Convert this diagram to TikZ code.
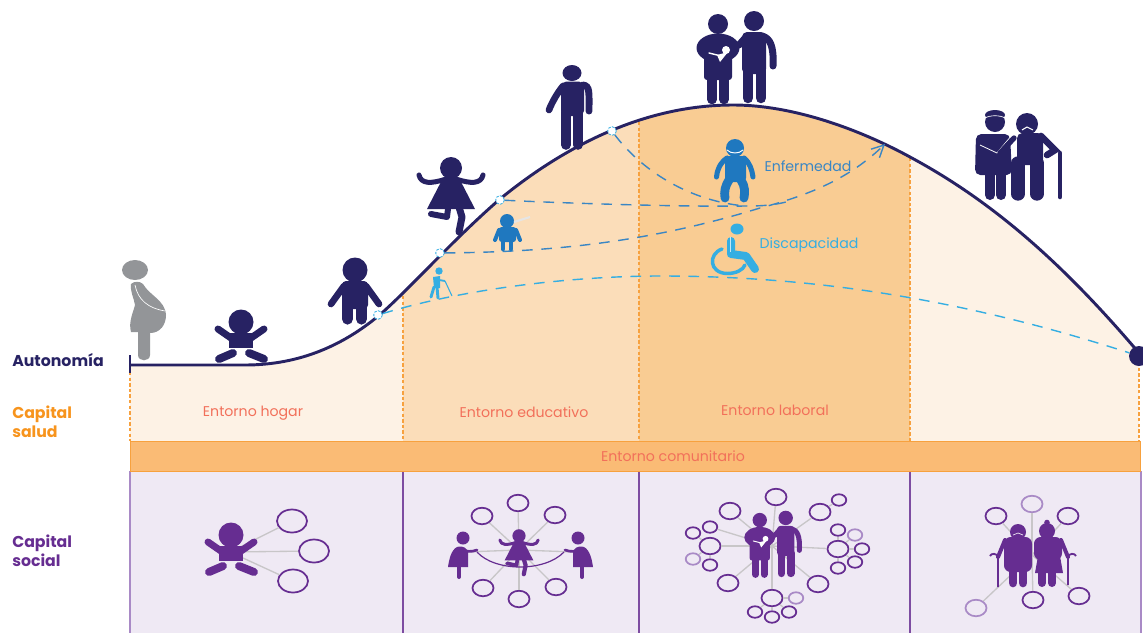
\documentclass[tikz,border=0pt]{standalone}
\usepackage{fontspec}
\setmainfont{Poppins}
\usetikzlibrary{shapes.geometric,arrows.meta}
\definecolor{navy}{HTML}{272263}
\definecolor{lightbg}{HTML}{FDF2E5}
\definecolor{midbg}{HTML}{FBDDB9}
\definecolor{darkbg}{HTML}{F9CC93}
\definecolor{bandbg}{HTML}{FABB75}
\definecolor{orangeline}{HTML}{F7A13E}
\definecolor{orangetxt}{HTML}{F7941D}
\definecolor{salmon}{HTML}{F2705A}
\definecolor{panelbg}{HTML}{EFE9F4}
\definecolor{purp}{HTML}{662D91}
\definecolor{purpl}{HTML}{A98AC6}
\definecolor{bluedk}{HTML}{1F78BF}
\definecolor{bluemd}{HTML}{3A86C4}
\definecolor{bluelt}{HTML}{35AEE2}
\definecolor{grayfig}{HTML}{939598}
\definecolor{spokec}{HTML}{C8C6C8}
\newcommand\figk{1}
\tikzset{
  limb/.style={line width=#1*\figk*0.75pt,line cap=round,line join=round,draw=fc},
  wlimb/.style={line width=#1*\figk*0.75pt,line cap=round,line join=round,draw=white},
  body/.style={fill=fc,rounded corners=#1*\figk*0.75pt},
  ring/.style={ellipse,draw=purp,line width=1.3pt,fill=panelbg,inner sep=0pt,minimum width=21*0.75pt,minimum height=16.5*0.75pt},
  ringbig/.style={ring,minimum width=30*0.75pt,minimum height=23*0.75pt},
  ringsm/.style={ring,minimum width=14.5*0.75pt,minimum height=11.5*0.75pt},
  faint/.style={draw=purpl},
  spoke/.style={draw=spokec,line width=1pt},
  guide/.style={draw=orangeline,line width=1.1pt,dash pattern=on 2.6pt off 1.6pt},
  cdash/.style={line width=1.05pt,dash pattern=on 8pt off 6.5pt},
  dot/.style={circle,fill=white,draw=bluelt,line width=0.6pt,dash pattern=on 2pt off 1pt,inner sep=0pt,minimum size=6.5pt},
  lab/.style={inner sep=0pt,font=\fontsize{10.6pt}{13pt}\selectfont},
  side/.style={inner sep=0pt,anchor=west,align=left,font=\fontsize{11.8pt}{14.5pt}\selectfont\bfseries},
}
\newcommand\curvepath{(130,365) -- (245,365) .. controls (300,365) and (345,345) .. (383,312) .. controls (415,283) and (455,238) .. (500,199) .. controls (560,150) and (640,105) .. (733,105) .. controls (800,105) and (870,135) .. (910,157) .. controls (990,200) and (1060,260) .. (1139,353)}
\newcommand\figbaby[4]{\begin{scope}[shift={(#1,#2)},scale=#3]\renewcommand\figk{#3}\colorlet{fc}{#4}
  \fill[fc] (0,-15) circle (12.5);
  \fill[fc] (-12,-4) rectangle (12,11);
  \draw[limb=7] (-10,1) -- (-23,-8); \draw[limb=7] (10,1) -- (23,-8);
  \draw[limb=8] (-8,16) -- (-22,22); \draw[limb=8] (8,16) -- (23,22);
\end{scope}}
\newcommand\figgirl[4]{\begin{scope}[shift={(#1,#2)},scale=#3]\renewcommand\figk{#3}\colorlet{fc}{#4}
  \fill[fc] (0,-22) circle (11);
  \fill[fc] (-8,-12) -- (8,-12) -- (24,19) -- (-24,19) -- cycle;
  \draw[limb=5] (-5,-11) .. controls (-20,-6) and (-30,-6) .. (-32,-15);
  \draw[limb=5] (5,-11) .. controls (20,-6) and (30,-6) .. (32,-15);
  \draw[limb=7] (8,17) -- (11,27) -- (8,42);
  \draw[limb=6] (-3,19) -- (-4,27) -- (-20,24);
\end{scope}}
\newcommand\figcouple[4]{\begin{scope}[shift={(#1,#2)},scale=#3]\renewcommand\figk{#3}\colorlet{fc}{#4}
  \fill[fc] (-17,-36) circle (10);
  \fill[fc] (19,-39) circle (10);
  \fill[fc] (-17,-12) ellipse (21.5 and 14.5);
  \fill[body=3] (-31,-12) rectangle (-3,20);
  \draw[limb=9.5] (-23,20) -- (-23,39.5);
  \draw[limb=9.5] (-11,20) -- (-11,39.5);
  \fill[body=5] (7,-28) rectangle (31,14);
  \draw[limb=7] (12,-24) -- (4,-15);
  \draw[limb=10.5] (13,10) -- (13,38);
  \draw[limb=10.5] (26,10) -- (26,38);
  \draw[limb=7] (27,-24) .. controls (35,-22) and (39,-14) .. (38,6);
  \fill[white] (-9,-10) circle (4);
  \draw[wlimb=1.4] (-26,-7) -- (-14,-4);
  \fill[white] (-18,-5) -- (-7,-8) -- (-11,-3) -- (-15,2) -- cycle;
\end{scope}}
\begin{document}
\begin{tikzpicture}[x=0.75pt,y=-0.75pt]
\useasboundingbox (0,0) rectangle (1143,633);
% --- bands
\begin{scope}\clip (130,0) rectangle (403,441);
  \fill[lightbg] (130,441) -- \curvepath -- (1139,441) -- cycle;\end{scope}
\begin{scope}\clip (403,0) rectangle (639,441);
  \fill[midbg] (130,441) -- \curvepath -- (1139,441) -- cycle;\end{scope}
\begin{scope}\clip (639,0) rectangle (910,441);
  \fill[darkbg] (130,441) -- \curvepath -- (1139,441) -- cycle;\end{scope}
\begin{scope}\clip (910,0) rectangle (1143,441);
  \fill[lightbg] (130,441) -- \curvepath -- (1139,441) -- cycle;\end{scope}
% --- guides
\coordinate (g0a) at (130,372); \coordinate (g0b) at (130,441);
\coordinate (g1a) at (403,296); \coordinate (g1b) at (403,441);
\coordinate (g2a) at (639,122); \coordinate (g2b) at (639,441);
\coordinate (g3a) at (910,158); \coordinate (g3b) at (910,441);
\coordinate (g4a) at (1139,362); \coordinate (g4b) at (1139,441);
\foreach \g in {g0,g1,g2,g3,g4} \draw[guide] (\g a) -- (\g b);
% --- panels
\fill[panelbg] (130,471) rectangle (1141,633);
\draw[purpl,line width=1pt] (130,471) -- (130,633);
\draw[purpl,line width=1pt] (1141,471) -- (1141,633);
\foreach \x in {402.5,638.5,909.5} \draw[purp!85!white,line width=1.5pt] (\x,471) -- (\x,633);
\node[draw=orangeline,fill=bandbg,line width=0.7pt,minimum width=1010*0.75pt,minimum height=29.5*0.75pt,inner sep=0pt,anchor=north west] (band) at (130,441) {};
\node[lab,text=salmon] (tcom) at (673,456) {Entorno comunitario};
% --- curve
\draw[navy,line width=2.2pt] \curvepath;
\coordinate (ticka) at (130,355); \coordinate (tickb) at (130,373);
\draw[navy,line width=2.2pt] (ticka) -- (tickb);
\node[circle,fill=navy,minimum size=20*0.75pt,inner sep=0pt] (endp) at (1139,356) {};
% --- dots
\node[dot] (d1) at (378,315) {};
\node[dot] (d2) at (440,253) {};
\node[dot] (d3) at (500,200) {};
\node[dot] (d4) at (612,131) {};
% --- trajectories
\draw[cdash,bluelt] (d1) .. controls (470,287) and (580,276) .. (660,276) .. controls (800,276) and (950,295) .. (endp);
\draw[cdash,bluemd] (d3) .. controls (560,203) and (680,207) .. (745,206) .. controls (765,206) and (775,205) .. (790,201);
\draw[cdash,bluemd] (d4) .. controls (635,162) and (680,200) .. (745,206);
\draw[cdash,bluemd,-{Straight Barb[length=9pt,width=9pt]}] (d2) .. controls (540,252) and (640,245) .. (760,208) .. controls (810,195) and (850,178) .. (885,144);
% --- figures on the curve
\fill[grayfig] (135,270) ellipse (13 and 10);
\fill[grayfig] (131,284) .. controls (134,281) and (140,281) .. (143,284) .. controls (150,296) and (165,300) .. (166,315) .. controls (166,325) and (160,333) .. (150,333) -- (150,355) .. controls (150,362) and (138,362) .. (138,355) -- (138,332) -- (131,332) .. controls (128,322) and (134,310) .. (135,305) .. controls (134,298) and (130,292) .. (131,284) -- cycle;
\draw[white,line width=0.5pt] (135,285) .. controls (138,300) and (148,308) .. (165,311);
\figbaby{241}{337}{1}{navy}
% boy
\fill[navy] (355,270) circle (12.5);
\fill[navy,rounded corners=3pt] (342,281) rectangle (368,309);
\draw[navy,line width=5pt,line cap=round] (344,286) -- (331,304);
\draw[navy,line width=5pt,line cap=round] (366,286) -- (379,304);
\draw[navy,line width=8.4pt,line cap=round] (347.5,305) -- (347.5,319);
\draw[navy,line width=8.4pt,line cap=round] (361.5,305) -- (361.5,319);
\figgirl{451}{190}{1}{navy}
% adult
\fill[navy] (572,73) ellipse (9.5 and 8);
\fill[navy,rounded corners=4pt] (561,81.5) rectangle (584,116);
\draw[navy,line width=5pt,line cap=round] (563,86) .. controls (558,92) and (552,102) .. (549,110);
\draw[navy,line width=5.2pt,line cap=round] (583,85) .. controls (590,86) and (589,92) .. (589,111);
\draw[navy,line width=7.2pt,line cap=round] (566,112) -- (566,145);
\draw[navy,line width=7.2pt,line cap=round] (578,112) -- (578,145);
\figcouple{735}{60}{1}{navy}
% elderly pair (top)
\fill[navy] (995,122) circle (10);
\fill[navy] (995,115) ellipse (10 and 5);
\draw[white,line width=0.5pt] (985,118) .. controls (990,115) and (1000,115) .. (1005,118);
\fill[navy,rounded corners=4pt] (976,134) -- (1010,134) -- (1012,175) -- (975,175) -- cycle;
\draw[navy,line width=7.5pt,line cap=round] (990,175) -- (990,195);
\draw[navy,line width=7.5pt,line cap=round] (1001,175) -- (1001,195);
\draw[white,line width=0.6pt] (980,145) -- (997,153) -- (1012,135);
\fill[navy] (1027,124) circle (11);
\draw[white,line width=0.8pt] (1022,130) -- (1027,127) -- (1033,130);
\fill[navy,rounded corners=4pt] (1017,133) rectangle (1043,165);
\draw[navy,line width=10pt,line cap=round] (1018,163) -- (1018,194);
\draw[navy,line width=10pt,line cap=round] (1037,163) -- (1037,194);
\draw[navy,line width=5pt,line cap=round] (1041,136) -- (1055,150) -- (1047,155);
\draw[navy,line width=3.4pt,line cap=round] (1060,153) -- (1060,197);
\draw[navy,line width=4pt,line cap=round] (1014,138) -- (1000,153);
% --- small blue figures
\fill[bluedk] (507,221) circle (7);
\fill[bluedk,rounded corners=2pt] (499,227) rectangle (516,242);
\draw[bluedk,line width=3pt,line cap=round] (499,230) -- (495,240);
\draw[bluedk,line width=3pt,line cap=round] (516,230) -- (520,240);
\draw[bluedk,line width=3.4pt,line cap=round] (503,240) -- (503,249);
\draw[bluedk,line width=3.4pt,line cap=round] (511,240) -- (511,249);
\draw[white!80!gray,line width=1.6pt] (514,222) -- (530,217);
\fill[bluelt] (439,271) circle (3.7);
\fill[bluelt] (433,277) -- (440,276) -- (440,288) -- (434,288) -- cycle;
\draw[bluelt,line width=2.2pt,line cap=round] (434,287) -- (431,297);
\draw[bluelt,line width=2.2pt,line cap=round] (437,287) -- (438,298);
\draw[bluelt,line width=1.4pt] (439,280) -- (445,281);
\draw[bluelt,line width=0.8pt] (445,281) -- (452,296);
\fill[bluedk] (735,148) circle (9);
\draw[white,line width=0.7pt] (727,150) .. controls (731,154) and (739,154) .. (743,150);
\fill[bluedk,rounded corners=3pt] (725,156) rectangle (746,182);
\draw[bluedk,line width=3.8pt,line cap=round] (727,158) .. controls (720,163) and (717,170) .. (716.5,177);
\draw[bluedk,line width=3.8pt,line cap=round] (744,158) .. controls (750,163) and (752,170) .. (753,177);
\draw[bluedk,line width=6.6pt,line cap=round] (729,180) .. controls (725,186) and (724,192) .. (725,198);
\draw[bluedk,line width=6.6pt,line cap=round] (741,180) .. controls (745,186) and (745,192) .. (744,198);
\fill[bluelt] (737,229) ellipse (6.5 and 5.5);
\draw[bluelt,line width=6pt,line cap=round,line join=round] (731,241) -- (731,254) -- (746,256) -- (755,269);
\draw[bluelt,line width=2.6pt,line cap=round] (722,249) .. controls (708,254) and (709,273) .. (727,273.5) .. controls (736,273.5) and (743,270) .. (745,265);
\draw[white!70!bluelt,line width=0.5pt] (730,237) -- (730,252);
% --- panel links and rings
\coordinate (c1) at (230,552);
\coordinate (c2) at (519,550);
\coordinate (c3) at (772,546);
\coordinate (c4) at (1032,555);
\foreach \n/\x/\y in {a1/292/521,a2/314/551,a3/293/581}
  {\node[ringbig] (\n) at (\x,\y) {}; \draw[spoke] (c1) -- (\n);}
\foreach \n/\x/\y in {b1/518/503,b2/482/516,b3/555/515,b4/483/588,b5/556/587,b6/519/599}
  {\node[ring] (\n) at (\x,\y) {}; \draw[spoke] (c2) -- (\n);}
\foreach \n/\x/\y in {e1/776/497,e2/730/511,e3/820/512,e4/710/546,e5/838/549,e6/728/583,e7/818/584,e8/772/598}
  {\node[ring] (\n) at (\x,\y) {}; \draw[spoke] (c3) -- (\n);}
\foreach \n/\x/\y/\p in {s1/839/500/e3,s2/710/527/c3,s3/693/533/e4,s5/710/565/e4,s6/838/530/e5,s8/862/549/e5,s9/855/562/e5,s10/838/568/e5,s12/789/612/e8,s13/772/617/e8,s14/755/612/e8}
  {\node[ringsm] (\n) at (\x,\y) {}; \draw[spoke] (\p) -- (\n);}
\foreach \n/\x/\y/\p in {s4/693/559/e4,s7/855/535/e5,s11/796/598/e8}
  {\node[ringsm,faint] (\n) at (\x,\y) {}; \draw[spoke] (\p) -- (\n);}
\foreach \n/\x/\y in {f2/996/516,f3/1068/516,f5/1033/600,f6/1079/596}
  {\node[ring] (\n) at (\x,\y) {}; \draw[spoke] (c4) -- (\n);}
\foreach \n/\x/\y in {f1/1032/504,f4/976/608}
  {\node[ring,faint] (\n) at (\x,\y) {}; \draw[spoke] (c4) -- (\n);}
% --- purple figures
\figbaby{231}{550}{1}{purp}
\coordinate (rl) at (464,552); \coordinate (rr) at (575,552);
\draw[spoke] (rl) -- (c2); \draw[spoke] (c2) -- (rr);
\figgirl{519}{549}{.6}{purp}
\fill[purp] (463,538) circle (6.5);
\fill[purp] (457,547) .. controls (464,545) and (467,549) .. (468,552) -- (468,567) -- (448,567) .. controls (449,560) and (451,550) .. (457,547) -- cycle;
\draw[purp,line width=3pt,line cap=round] (459,566) -- (459,577);
\draw[purp,line width=2pt,line cap=round] (462,549) .. controls (465,552) and (472,552) .. (477,550);
\fill[purp] (578,538) circle (6.5);
\fill[purp] (584,547) .. controls (577,545) and (574,549) .. (573,552) -- (573,567) -- (593,567) .. controls (592,560) and (590,550) .. (584,547) -- cycle;
\draw[purp,line width=3pt,line cap=round] (582,566) -- (582,577);
\draw[purp,line width=2pt,line cap=round] (580,549) .. controls (577,552) and (570,552) .. (565,550);
\draw[purp,line width=0.9pt] (477,552) .. controls (495,572) and (545,572) .. (564,552);
\figcouple{772}{546}{.72}{purp}
% elders (bottom)
\fill[purp] (1018,532) circle (8);
\draw[panelbg,line width=0.5pt] (1013,535) -- (1018,533) -- (1023,535);
\fill[purp,rounded corners=5pt] (1004,537) rectangle (1032,572);
\draw[purp,line width=6.5pt,line cap=round] (1013,570) -- (1013,583);
\draw[purp,line width=6.5pt,line cap=round] (1023,570) -- (1023,583);
\fill[purp] (1047,531) circle (8);
\fill[purp] (1047,522.5) circle (2.8);
\fill[purp,rounded corners=5pt] (1034,537) rectangle (1062,560);
\fill[purp] (1038,556) -- (1060,556) -- (1063,573) -- (1035,573) -- cycle;
\draw[purp,line width=6pt,line cap=round] (1042,572) -- (1042,583);
\draw[purp,line width=6pt,line cap=round] (1052,572) -- (1052,583);
\draw[purp,line width=3pt,line cap=round] (1005,540) -- (998,557);
\draw[purp,line width=3pt,line cap=round] (1061,540) -- (1068,557);
\draw[purp,line width=1.4pt] (998,587) -- (998,557) .. controls (997,553) and (991,553) .. (990,556);
\draw[purp,line width=1.4pt] (1068,585) -- (1068,557) .. controls (1069,553) and (1075,553) .. (1076,556);
% --- labels
\node[side,text=navy] (taut) at (12,360) {Autonomía};
\node[side,text=orangetxt] (tsal) at (12,422) {Capital\\salud};
\node[side,text=purp] (tsoc) at (12,551) {Capital\\social};
\node[lab,text=salmon] (thog) at (253,413.5) {Entorno hogar};
\node[lab,text=salmon] (tedu) at (524,412) {Entorno educativo};
\node[lab,text=salmon] (tlab) at (775,410) {Entorno laboral};
\node[lab,text=bluemd] (tenf) at (808,166) {Enfermedad};
\node[lab,text=bluelt] (tdis) at (809,245) {Discapacidad};
\end{tikzpicture}
\end{document}
